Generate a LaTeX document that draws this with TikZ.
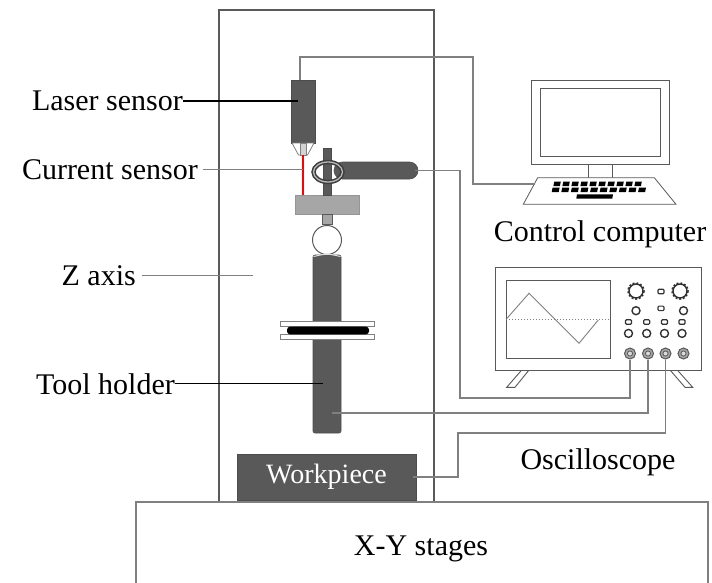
\documentclass[tikz,border=0pt]{standalone}
\usepackage{fontspec}
\setmainfont{Liberation Serif}
\usetikzlibrary{calc}
\usetikzlibrary{positioning}
\definecolor{partgrey}{HTML}{595959}
\definecolor{blockgrey}{HTML}{A6A6A6}
\definecolor{wiregrey}{HTML}{808080}
\tikzstyle{part}=[fill=partgrey, draw=partgrey!85!black, line width=.6pt, inner sep=0pt]
\tikzstyle{frame}=[draw=partgrey, line width=1.1pt, inner sep=0pt]
\tikzstyle{wire}=[draw=wiregrey, line width=1.4pt]
\tikzstyle{lead}=[line width=1.1pt]
\tikzstyle{caption}=[font={\fontsize{30}{35}\selectfont}, inner sep=0pt]
\tikzstyle{btn}=[draw=black!80, fill=white, line width=1.1pt, rounded corners=1pt, inner sep=0pt, minimum width=6pt, minimum height=4.5pt]
\tikzstyle{knob}=[circle, draw=black!80, fill=white, line width=1.4pt, inner sep=0pt, minimum size=8pt]
\tikzstyle{port}=[circle, draw=partgrey, fill=blockgrey, line width=1pt, inner sep=0pt, minimum size=11pt]

\begin{document}
\begin{tikzpicture}[x=1pt, y=-1pt]
    \useasboundingbox (0,0) rectangle (712,582);
    \clip (0,0) rectangle (712,582);

    % frame and stages
    \node[frame, minimum width=215pt, minimum height=492pt] (zaxis) at (326.5,256) {};
    \node[frame, draw=wiregrey, minimum width=572pt, minimum height=100pt] (stage) at (422,552) {};
    \node[caption, anchor=base] (stagetxt) at (421,555) {X-Y stages};

    % laser sensor
    \node[part, minimum width=24pt, minimum height=63pt] (laser) at (303,111.5) {};
    \draw[draw=wiregrey, fill=white, line width=.8pt] (292,143) -- (314,143) -- (307.5,155) -- (298.5,155) -- cycle;
    \node[fill=blockgrey!50, draw=wiregrey, line width=.5pt, inner sep=0pt, minimum width=6.5pt, minimum height=12pt] (tip) at (303.2,149) {};

    % tool head
    \node[fill=blockgrey, draw=blockgrey!90!black, line width=.6pt, inner sep=0pt, minimum width=64pt, minimum height=19pt] (block) at (327,204.5) {};
    \draw[red, line width=2.4pt] (tip.south) -- (tip.south |- block.north);
    \node[fill=blockgrey, draw=partgrey, line width=.6pt, inner sep=0pt, minimum width=10pt, minimum height=10pt] (neck) at (327,219) {};
    \node[circle, draw=partgrey, fill=white, line width=1pt, inner sep=0pt, minimum size=29pt] (ball) at (327,240) {};
    \node[part, rounded corners=2pt, minimum width=28pt, minimum height=178pt] (holder) at (327,344) {};
    \draw[white!75!gray, line width=1pt] (313.5,256.5) .. controls (327,253.5) .. (340.5,256.5);
    \node[fill=white, draw=wiregrey, line width=.8pt, inner sep=0pt, minimum width=94pt, minimum height=5pt] (plateA) at (327,324.3) {};
    \node[fill=white, draw=wiregrey, line width=.8pt, inner sep=0pt, minimum width=94pt, minimum height=5pt] (plateB) at (327,336.8) {};
    \node[fill=black, rounded corners=3pt, inner sep=0pt, minimum width=82pt, minimum height=7.6pt] (pad) at (328,330.5) {};

    % current sensor
    \node[part, minimum width=8pt, minimum height=47pt] (rod) at (327,171.5) {};
    \node[part, rounded corners=8.5pt, minimum width=84pt, minimum height=17pt] (arm) at (376,170.5) {};
    \draw[partgrey!70!black, line width=4.4pt] (328,172) ellipse (14.5 and 10);
    \draw[blockgrey!80, line width=1.3pt] (328,172) ellipse (14.5 and 10);

    % workpiece
    \node[part, font={\fontsize{28}{33}\selectfont}, text=white, minimum width=179pt, minimum height=46pt] (work) at (326.5,477) {Workpiece};

    % computer
    \node[draw=partgrey, line width=.8pt, inner sep=0pt, minimum width=137.6pt, minimum height=84pt] (monitor) at (600.5,122) {};
    \node[draw=partgrey, line width=.8pt, inner sep=0pt, minimum width=120pt, minimum height=68.4pt] (screen) at (600.7,122.5) {};
    \node[draw=partgrey, line width=.8pt, inner sep=0pt, minimum width=24.6pt, minimum height=13.7pt, anchor=north] (stand) at (monitor.south) {};
    \draw[partgrey, line width=.8pt, fill=white] (537.7,177.7) -- (654.3,177.7) -- (676,204.3) -- (523.3,204.3) -- cycle;
    \coordinate (kbd) at (535,184);
    \foreach \i in {0,...,9}
        \fill ({554.3+9*\i},181.5) -- ++(6.5,0) -- ++(-0.9,4.5) -- ++(-6.5,0) -- cycle;
    \foreach \i in {0,...,9}
        \fill ({552.6+9.6*\i},187.6) -- ++(7,0) -- ++(-0.9,4.4) -- ++(-7,0) -- cycle;
    \fill (577,194.3) -- (613,194.3) -- (612.3,198.5) -- (576.3,198.5) -- cycle;
    \node[caption, anchor=base] (pclabel) at (600,241.7) {Control computer};

    % oscilloscope
    \draw[partgrey, line width=.9pt, fill=white] (521.7,370) -- (529,370) -- (515,387.3) -- (506.7,387.3) -- cycle;
    \draw[partgrey, line width=.9pt, fill=white] (670,370) -- (677.3,370) -- (692.7,387.3) -- (685,387.3) -- cycle;
    \node[draw=partgrey, line width=.9pt, fill=white, inner sep=0pt, minimum width=205.3pt, minimum height=103pt] (scope) at (598.4,319.2) {};
    \node[draw=partgrey, line width=.9pt, inner sep=0pt, minimum width=103.3pt, minimum height=77.6pt] (scrn) at (558.4,319.5) {};
    \draw[wiregrey, line width=1pt, dotted] (scrn.west) -- (scrn.east);
    \draw[wiregrey, line width=.9pt] (507,318.3) -- (529,293.3) -- (579,343.3) -- (598.3,320);
    \foreach \x [count=\k] in {636,680} {
        \node[knob, minimum size=14pt] (dial\k) at (\x,291) {};
        \draw[line width=2.4pt, black!80, dash pattern=on 1.8pt off 1.8pt] (dial\k) circle (7.6);
    }
    \node[btn] (sel) at (661,291.5) {};
    \node[knob] (trimA) at (636,310.7) {};
    \node[btn] (mode) at (661,308.3) {};
    \node[knob] (trimB) at (683.5,310.7) {};
    \foreach \x [count=\k] in {628.5,646.7,664.5,682} {
        \node[btn] (key\k) at (\x,322) {};
        \node[knob] (pot\k) at (\x,333.4) {};
    }
    \foreach \x [count=\k] in {630,648,665.5,683.5} {
        \node[port] (port\k) at (\x,353.5) {};
        \draw[partgrey, fill=blockgrey!40, line width=.8pt] (port\k) circle (2.6);
    }
    \node[caption, anchor=base] (scopelabel) at (598,469.5) {Oscilloscope};

    % label leaders
    \node[caption, anchor=base east] (lblLaser) at (183,110.7) {Laser sensor};
    \node[caption, anchor=base east] (lblCurrent) at (198,179.3) {Current sensor};
    \node[caption, anchor=base east] (lblZ) at (136,285) {Z axis};
    \node[caption, anchor=base east] (lblTool) at (175,394) {Tool holder};
    \draw[lead] (lblLaser.east) -- ([xshift=-5pt]lblLaser.east -| laser.center);
    \draw[lead, wiregrey] ([xshift=5pt]lblCurrent.east) -- (lblCurrent.east -| tip.center);
    \draw[lead, wiregrey] ([xshift=6pt]lblZ.east) -- ++(111,0);
    \draw[lead] (lblTool.east) -- ([xshift=-4pt]lblTool.east -| holder.center);

    % cables
    \coordinate (topbend) at (473,57);
    \coordinate (armbend) at (460,398);
    \coordinate (holdtap) at (332,413);
    \coordinate (workbend) at (458,433);
    \draw[wire] ([xshift=-3pt]laser.north) |- (topbend) |- (kbd);
    \draw[wire] ([xshift=-3pt]arm.east) -| (armbend) -| (port1.south);
    \draw[wire] (holdtap) -| (port2.south);
    \draw[wire] ([xshift=-3pt]work.east) -| (workbend) -| (port3.south);

\end{tikzpicture}
\end{document}
